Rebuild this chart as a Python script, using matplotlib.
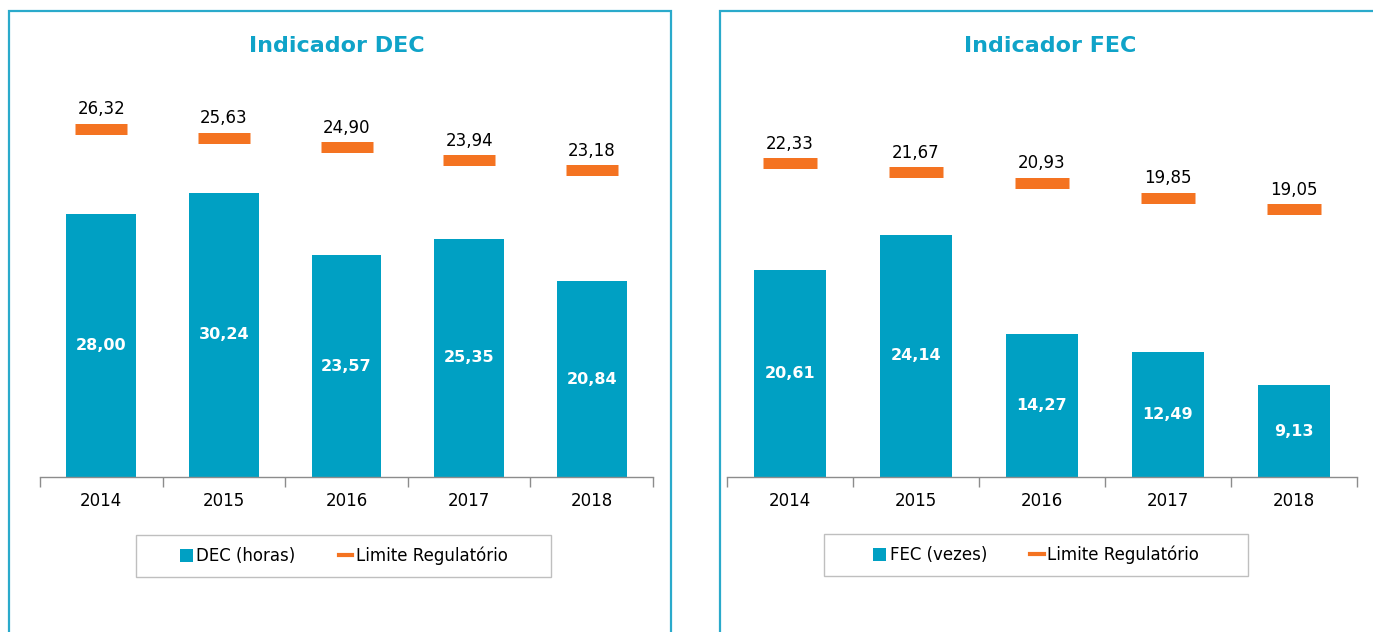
import matplotlib
matplotlib.use("Agg")
import matplotlib.pyplot as plt
from matplotlib.patches import Rectangle, Patch
from matplotlib.lines import Line2D

years = ["2014", "2015", "2016", "2017", "2018"]
dec_values = [28.00, 30.24, 23.57, 25.35, 20.84]
dec_limits = [26.32, 25.63, 24.90, 23.94, 23.18]
fec_values = [20.61, 24.14, 14.27, 12.49, 9.13]
fec_limits = [22.33, 21.67, 20.93, 19.85, 19.05]

TEAL = "#00A0C3"
ORANGE = "#F47321"
TITLE = "#0FA3C8"
BORDER = "#2AAACB"

W, H = 1373, 632
fig = plt.figure(figsize=(W / 100, H / 100), dpi=100)
plt.rcParams['font.family'] = ['DejaVu Sans']

def fx(px):
    return px / W

def fy(py):
    return 1 - py / H

def fmt(v):
    return f"{v:.2f}".replace(".", ",")

def panel(x0, x1, vals, lims, ymax_bar, ymax_lim, title, title_x, leg_box, leg_label):
    top_px, base_px = 80, 477
    ax = fig.add_axes([fx(x0), fy(base_px), fx(x1 - x0), (base_px - top_px) / H])
    ax2 = ax.twinx()
    n = len(years)
    x = list(range(n))
    ax.bar(x, vals, width=0.57, color=TEAL, zorder=2)
    for xi, v in zip(x, vals):
        ax.text(xi, v / 2, fmt(v), ha="center", va="center", color="white",
                fontsize=11.5, fontweight="bold")
    ax.set_ylim(0, ymax_bar)
    ax.set_xlim(-0.5, n - 0.5)
    ax2.set_ylim(0, ymax_lim)
    cat_px = (x1 - x0) / n
    mw = 0.43 * cat_px * 72 / 100
    ax2.plot(x, lims, linestyle="none", marker="_", markersize=mw,
             markeredgewidth=11 * 72 / 100, color=ORANGE)
    for xi, v in zip(x, lims):
        ax2.annotate(fmt(v), (xi, v), xytext=(0, 7.5), textcoords="offset points",
                     ha="center", va="bottom", fontsize=12, color="black")
    for a in (ax, ax2):
        for s in ("top", "left", "right"):
            a.spines[s].set_visible(False)
        a.set_yticks([])
    ax2.spines["bottom"].set_visible(False)
    ax.spines["bottom"].set_color("#8C8C8C")
    ax.spines["bottom"].set_linewidth(1)
    ax.set_xticks(x)
    ax.set_xticklabels(years, fontsize=12)
    ax.tick_params(axis="x", which="major", length=0, pad=11)
    ax.set_xticks([i - 0.5 for i in range(n + 1)], minor=True)
    ax.tick_params(axis="x", which="minor", length=7, color="#8C8C8C", width=1)
    ax.set_zorder(ax2.get_zorder() - 1)
    ax.patch.set_visible(False)
    fig.text(fx(title_x), fy(46), title, ha="center", va="center",
             fontsize=16, fontweight="bold", color=TITLE)
    lx0, ly0, lx1, ly1 = leg_box
    fig.patches.append(Rectangle((fx(lx0), fy(ly1)), fx(lx1 - lx0), (ly1 - ly0) / H,
                                 transform=fig.transFigure, fill=False,
                                 edgecolor="#BFBFBF", linewidth=1))
    handles = [Patch(facecolor=TEAL, edgecolor="none", label=leg_label),
               Line2D([0], [0], color=ORANGE, linewidth=3, label="Limite Regulatório")]
    fig.legend(handles=handles, loc="center", ncol=2, frameon=False,
               bbox_to_anchor=(fx((lx0 + lx1) / 2), fy((ly0 + ly1) / 2)),
               fontsize=12, handlelength=0.8, handleheight=0.8,
               handletextpad=0.2, columnspacing=2.6)

# panel borders
fig.patches.append(Rectangle((fx(9), fy(700)), fx(662), (700 - 11) / H,
                             transform=fig.transFigure, fill=False,
                             edgecolor=BORDER, linewidth=1.6))
fig.patches.append(Rectangle((fx(720), fy(700)), fx(700), (700 - 11) / H,
                             transform=fig.transFigure, fill=False,
                             edgecolor=BORDER, linewidth=1.6))

panel(40, 653, dec_values, dec_limits, 397 / 9.40, 397 / 13.24,
      "Indicador DEC", 337, (136, 535, 551, 577), "DEC (horas)")
panel(727, 1357, fec_values, fec_limits, 397 / 10.03, 397 / 14.06,
      "Indicador FEC", 1050, (824, 534, 1248, 576), "FEC (vezes)")

fig.savefig("out.png", dpi=100)
